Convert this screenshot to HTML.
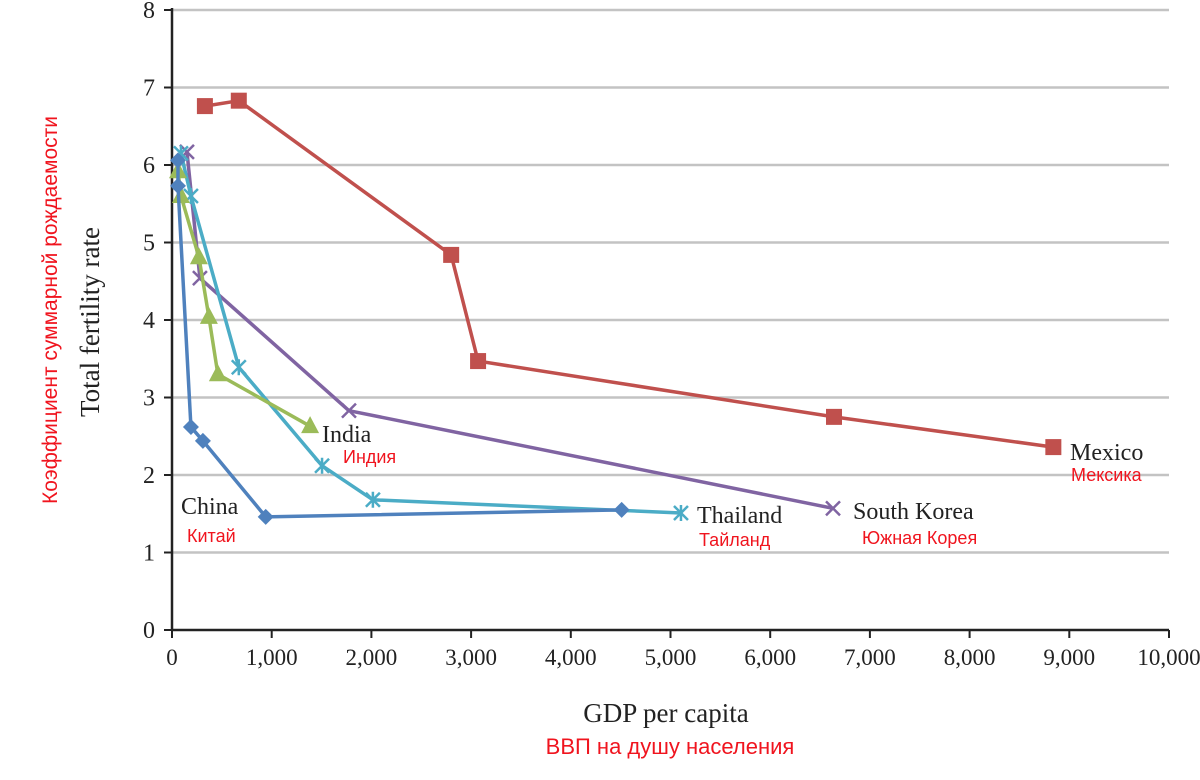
<!DOCTYPE html>
<html><head><meta charset="utf-8"><style>
body{margin:0;background:#fff}
svg{display:block}
.serif{font-family:"Liberation Serif",serif;fill:#222}
.ru{font-family:"Liberation Sans","Noto Sans CJK SC",sans-serif;fill:#f0141e}
</style></head><body>
<svg id="chart" width="1200" height="780"></svg>
<script>
const xTicks=[0,1000,2000,3000,4000,5000,6000,7000,8000,9000,10000];
const xTickLabels=["0","1,000","2,000","3,000","4,000","5,000","6,000","7,000","8,000","9,000","10,000"];
const yTicks=[0,1,2,3,4,5,6,7,8];
const chinaX=[60,60,190,310,940,4510];
const chinaY=[6.06,5.73,2.62,2.44,1.46,1.55];
const indiaX=[60,90,270,370,460,1385];
const indiaY=[5.92,5.6,4.81,4.04,3.3,2.63];
const thaiX=[90,190,670,1505,2015,5105];
const thaiY=[6.15,5.6,3.39,2.12,1.68,1.51];
const koreaX=[150,280,1775,6630];
const koreaY=[6.17,4.54,2.83,1.57];
const mexicoX=[330,670,2800,3070,6640,8840];
const mexicoY=[6.76,6.83,4.84,3.47,2.75,2.36];

const NS="http://www.w3.org/2000/svg";
const svg=document.getElementById('chart');
const X=v=>172+v*0.0997;
const Y=v=>630-v*77.5;
function mk(tag,attrs,parent){const e=document.createElementNS(NS,tag);for(const k in attrs)e.setAttribute(k,attrs[k]);(parent||svg).appendChild(e);return e;}

yTicks.forEach((t,i)=>{
  if(t>0){const g=mk('line',{x1:172,x2:1169,y1:Y(t),y2:Y(t),stroke:'#c3c3c3','stroke-width':2.5});
  
  }
  const tk=mk('line',{x1:164,x2:172,y1:Y(t),y2:Y(t),stroke:'#222','stroke-width':2});
  
  
  const tx=mk('text',{x:155,y:Y(t)+8,'text-anchor':'end','font-size':24,class:'serif'});tx.textContent=t;
  
  
});
xTicks.forEach((t,i)=>{
  const tk=mk('line',{x1:X(t),x2:X(t),y1:630,y2:638,stroke:'#222','stroke-width':2});
  
  
  const tx=mk('text',{x:X(t),y:665,'text-anchor':'middle','font-size':23,class:'serif'});tx.textContent=xTickLabels[i];
  
  
});
const ya=mk('line',{x1:172,x2:172,y1:8,y2:631,stroke:'#222','stroke-width':2.5});


const xa=mk('line',{x1:171,x2:1169,y1:630,y2:630,stroke:'#222','stroke-width':2.5});



function series(name,xs,ys,color,marker){
  const g=mk('g',{});
  
  
  const pl=mk('polyline',{points:xs.map((x,i)=>X(x)+','+Y(ys[i])).join(' '),fill:'none',stroke:color,'stroke-width':3.5,'stroke-linejoin':'round'},g);
  
  
  xs.forEach((x,i)=>{
    const cx=X(x),cy=Y(ys[i]);let m;
    if(marker==='diamond')m=mk('polygon',{points:`${cx},${cy-8} ${cx+8},${cy} ${cx},${cy+8} ${cx-8},${cy}`,fill:color},g);
    else if(marker==='square')m=mk('rect',{x:cx-8,y:cy-8,width:16,height:16,fill:color},g);
    else if(marker==='triangle')m=mk('polygon',{points:`${cx},${cy-10} ${cx+9},${cy+7} ${cx-9},${cy+7}`,fill:color},g);
    else if(marker==='x')m=mk('path',{d:`M${cx-7},${cy-7}L${cx+7},${cy+7}M${cx+7},${cy-7}L${cx-7},${cy+7}`,stroke:color,'stroke-width':2.5},g);
    else m=mk('path',{d:`M${cx-7},${cy-7}L${cx+7},${cy+7}M${cx+7},${cy-7}L${cx-7},${cy+7}M${cx},${cy-8}L${cx},${cy+8}`,stroke:color,'stroke-width':2.5},g);
    
    
  });
}
series('mexico',mexicoX,mexicoY,'#c0504d','square');
series('south-korea',koreaX,koreaY,'#8064a2','x');
series('thailand',thaiX,thaiY,'#4bacc6','star');
series('india',indiaX,indiaY,'#9bbb59','triangle');
series('china',chinaX,chinaY,'#4f81bd','diamond');

function label(txt,x,y,cls,size,name,anchor){
  const t=mk('text',{x:x,y:y,class:cls,'font-size':size,'text-anchor':anchor||'start'});t.textContent=txt;
  
  
}
label('Mexico',1070,460,'serif',24,'mexico-label');
label('Мексика',1071,481,'ru',18,'mexico-label-ru');
label('South Korea',853,519,'serif',24,'south-korea-label');
label('Южная Корея',862,544,'ru',18,'south-korea-label-ru');
label('Thailand',697,523,'serif',24,'thailand-label');
label('Тайланд',699,546,'ru',18,'thailand-label-ru');
label('India',322,442,'serif',24,'india-label');
label('Индия',343,463,'ru',18,'india-label-ru');
label('China',181,514,'serif',24,'china-label');
label('Китай',187,542,'ru',18,'china-label-ru');
label('GDP per capita',666,722,'serif',27,'x-axis-title','middle');
label('ВВП на душу населения',670,754,'ru',22,'x-axis-title-ru','middle');
const yt=mk('text',{transform:'translate(99,322) rotate(-90)','text-anchor':'middle','font-size':27,class:'serif'});yt.textContent='Total fertility rate';


const yr=mk('text',{transform:'translate(57,310) rotate(-90)','text-anchor':'middle','font-size':21,class:'ru'});yr.textContent='Коэффициент суммарной рождаемости';


</script>
</body></html>
